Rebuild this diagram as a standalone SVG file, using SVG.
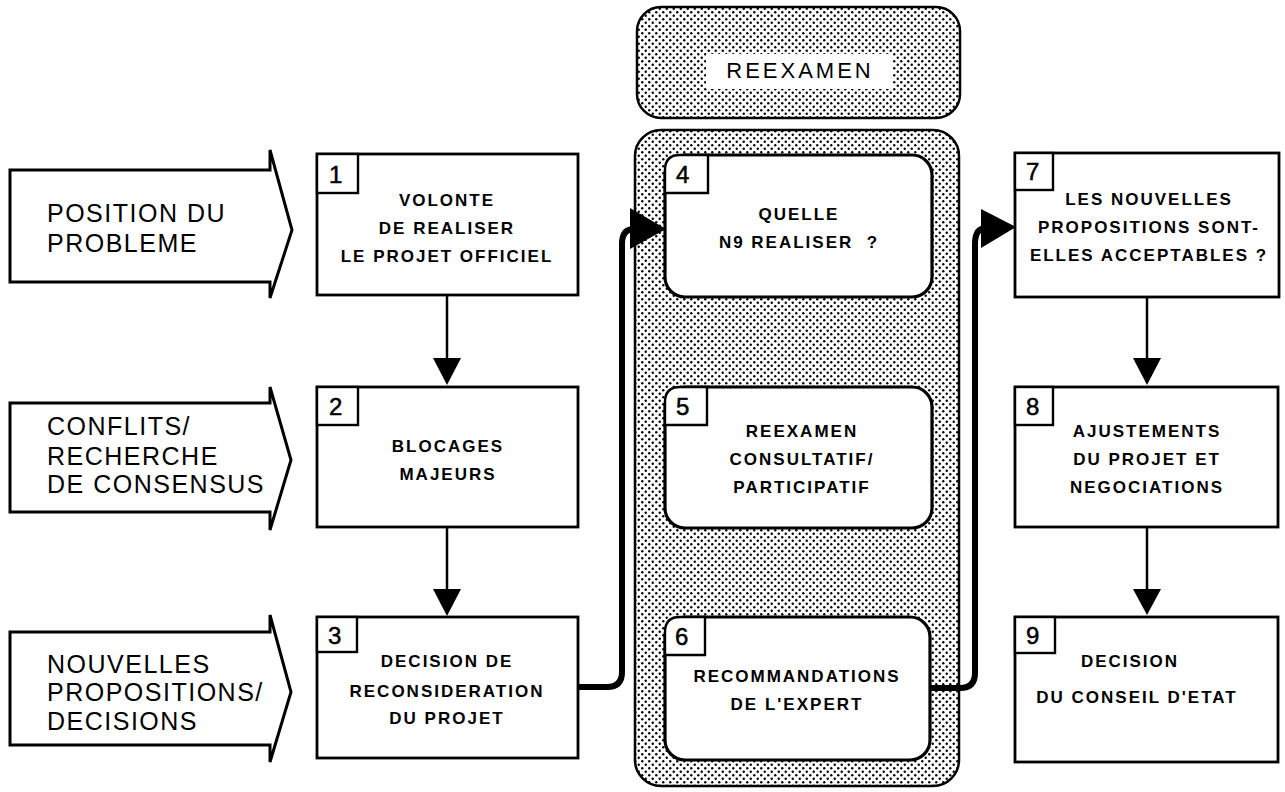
<svg xmlns="http://www.w3.org/2000/svg" width="1285" height="792" viewBox="0 0 1285 792">
<defs>
<pattern id="dots" width="7" height="7" patternUnits="userSpaceOnUse">
<rect width="7" height="7" fill="#fff"/>
<circle cx="1.75" cy="1.75" r="1.2" fill="#000"/>
<circle cx="5.25" cy="5.25" r="1.2" fill="#000"/>
</pattern>
</defs>
<style>
.phase{fill:#fff;stroke:#000;stroke-width:3;stroke-linejoin:miter}
.ptxt{font-family:"Liberation Sans",Arial,sans-serif;font-size:25px;letter-spacing:1.5px;fill:#000}
.box{fill:#fff;stroke:#000;stroke-width:2.8}
.rbox{fill:#fff;stroke:#000;stroke-width:3.2}
.num{fill:#fff;stroke:#000;stroke-width:2.4}
.ntxt{font-family:"Liberation Sans",Arial,sans-serif;font-size:24px;fill:#000;stroke:#000;stroke-width:0.5}
.btxt{font-family:"Liberation Sans",Arial,sans-serif;font-size:17px;font-weight:bold;letter-spacing:2px;fill:#000;text-anchor:middle}
.thin{fill:none;stroke:#000;stroke-width:2.5}
.thick{fill:none;stroke:#000;stroke-width:6;stroke-linejoin:round}
.head{fill:#000}
.cont{fill:url(#dots);stroke:#000;stroke-width:2.5}
.ttl{font-family:"Liberation Sans",Arial,sans-serif;font-size:22px;letter-spacing:3px;fill:#000;text-anchor:middle}
</style>

<g id="reexamen-zone">
<rect class="cont" x="637" y="7" width="323" height="111" rx="24"/>
<rect x="706" y="54" width="186" height="35" fill="#fff"/>
<text class="ttl" x="800" y="78">REEXAMEN</text>
<rect class="cont" x="635" y="130" width="324" height="656" rx="26"/>
</g>

<g id="phase1">
<path class="phase" d="M10,170 L270,170 L270,150 L292,230 L270,298 L270,282 L10,282 Z"/>
<text class="ptxt" x="47" y="222">POSITION DU</text>
<text class="ptxt" x="47" y="252">PROBLEME</text>
</g>
<g id="phase2">
<path class="phase" d="M10,403 L270,403 L270,387 L291,460 L270,530 L270,512 L10,512 Z"/>
<text class="ptxt" x="47" y="435">CONFLITS/</text>
<text class="ptxt" x="47" y="465">RECHERCHE</text>
<text class="ptxt" x="47" y="493">DE CONSENSUS</text>
</g>
<g id="phase3">
<path class="phase" d="M10,632 L270,632 L270,615 L291,692 L270,762 L270,745 L10,745 Z"/>
<text class="ptxt" x="47" y="673">NOUVELLES</text>
<text class="ptxt" x="47" y="701">PROPOSITIONS/</text>
<text class="ptxt" x="47" y="730">DECISIONS</text>
</g>

<g id="connectors">
<line class="thin" x1="447" y1="295" x2="447" y2="362"/>
<polygon class="head" points="433,358 461,358 447,385"/>
<line class="thin" x1="447" y1="527" x2="447" y2="592"/>
<polygon class="head" points="433,589 461,589 447,616"/>
<line class="thin" x1="1147" y1="297" x2="1147" y2="362"/>
<polygon class="head" points="1133,358 1161,358 1147,385"/>
<line class="thin" x1="1147" y1="527" x2="1147" y2="592"/>
<polygon class="head" points="1133,589 1161,589 1147,615"/>
<path class="thick" d="M578,687 L607,687 Q622,687 622,672 L622,244 Q622,229 634,229"/>
<polygon class="head" points="630,208 666,229 630,249"/>
<path class="thick" d="M930,688 L960,688 Q975,688 975,673 L975,244 Q975,228 986,228"/>
<polygon class="head" points="981,209 1016,227 981,248"/>
</g>

<g id="n1">
<rect class="box" x="317" y="154" width="261" height="141"/>
<rect class="num" x="317" y="154" width="41" height="39"/>
<text class="ntxt" x="329" y="183">1</text>
<text class="btxt" x="447" y="206">VOLONTE</text>
<text class="btxt" x="447" y="234">DE REALISER</text>
<text class="btxt" x="447" y="262">LE PROJET OFFICIEL</text>
</g>
<g id="n2">
<rect class="box" x="317" y="387" width="261" height="140"/>
<rect class="num" x="317" y="387" width="41" height="38"/>
<text class="ntxt" x="329" y="415">2</text>
<text class="btxt" x="448" y="452">BLOCAGES</text>
<text class="btxt" x="448" y="480">MAJEURS</text>
</g>
<g id="n3">
<rect class="box" x="317" y="617" width="261" height="141"/>
<rect class="num" x="317" y="617" width="40" height="35"/>
<text class="ntxt" x="328" y="644">3</text>
<text class="btxt" x="447" y="667">DECISION DE</text>
<text class="btxt" x="447" y="697">RECONSIDERATION</text>
<text class="btxt" x="447" y="724">DU PROJET</text>
</g>
<g id="n4">
<rect class="rbox" x="665" y="155" width="267" height="142" rx="20"/>
<path class="num" d="M665,193 L665,170 Q665,155 680,155 L708,155 L708,193 Z"/>
<text class="ntxt" x="676" y="183">4</text>
<text class="btxt" x="799" y="220">QUELLE</text>
<text class="btxt" x="799" y="248" xml:space="preserve">N9 REALISER  ?</text>
</g>
<g id="n5">
<rect class="rbox" x="665" y="387" width="267" height="141" rx="20"/>
<path class="num" d="M665,425 L665,402 Q665,387 680,387 L707,387 L707,425 Z"/>
<text class="ntxt" x="676" y="415">5</text>
<text class="btxt" x="802" y="437">REEXAMEN</text>
<text class="btxt" x="802" y="465">CONSULTATIF/</text>
<text class="btxt" x="802" y="493">PARTICIPATIF</text>
</g>
<g id="n6">
<rect class="rbox" x="665" y="617" width="265" height="143" rx="20"/>
<path class="num" d="M665,655 L665,632 Q665,617 680,617 L705,617 L705,655 Z"/>
<text class="ntxt" x="675" y="645">6</text>
<text class="btxt" x="797" y="682">RECOMMANDATIONS</text>
<text class="btxt" x="797" y="710">DE L'EXPERT</text>
</g>
<g id="n7">
<rect class="box" x="1015" y="153" width="264" height="144"/>
<rect class="num" x="1015" y="153" width="38" height="37"/>
<text class="ntxt" x="1026" y="180">7</text>
<text class="btxt" x="1149" y="205">LES NOUVELLES</text>
<text class="btxt" x="1149" y="233">PROPOSITIONS SONT-</text>
<text class="btxt" x="1149" y="261">ELLES ACCEPTABLES ?</text>
</g>
<g id="n8">
<rect class="box" x="1015" y="387" width="263" height="140"/>
<rect class="num" x="1015" y="387" width="38" height="38"/>
<text class="ntxt" x="1026" y="415">8</text>
<text class="btxt" x="1147" y="437">AJUSTEMENTS</text>
<text class="btxt" x="1147" y="465">DU PROJET ET</text>
<text class="btxt" x="1147" y="493">NEGOCIATIONS</text>
</g>
<g id="n9">
<rect class="box" x="1015" y="617" width="263" height="145"/>
<rect class="num" x="1015" y="617" width="40" height="36"/>
<text class="ntxt" x="1026" y="644">9</text>
<text class="btxt" x="1130" y="667">DECISION</text>
<text class="btxt" x="1137" y="703">DU CONSEIL D'ETAT</text>
</g>
</svg>
